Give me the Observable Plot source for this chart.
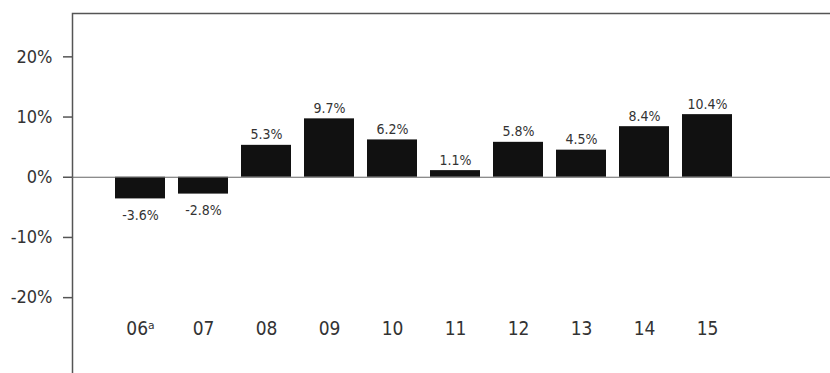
<!DOCTYPE html>
<html>
<head>
<meta charset="utf-8">
<script src="https://cdn.jsdelivr.net/npm/d3@7"></script>
<script src="https://cdn.jsdelivr.net/npm/@observablehq/plot@0.6"></script>
<style>
  html, body { margin: 0; padding: 0; background: #fff; }
  #chart svg { display: block; }
</style>
</head>
<body>
<div id="chart"></div>
<script>
const years = ["06", "07", "08", "09", "10", "11", "12", "13", "14", "15"];
const yearLabels = ["06ᵃ", "07", "08", "09", "10", "11", "12", "13", "14", "15"];
const values = [-3.6, -2.8, 5.3, 9.7, 6.2, 1.1, 5.8, 4.5, 8.4, 10.4];
const yTicks = [-20, -10, 0, 10, 20];
const yDomain = [-32.6, 27.2];

const data = years.map((y, i) => ({year: y, value: values[i]}));
const labelOf = new Map(years.map((y, i) => [y, yearLabels[i]]));
const font = "'DejaVu Sans Condensed', 'Liberation Sans Narrow', 'Roboto', sans-serif";

const chart = Plot.plot({
  width: 830,
  height: 373,
  marginTop: 13,
  marginBottom: 0,
  marginLeft: 72,
  marginRight: 0,
  style: {fontFamily: font, color: "#333", background: "#fff"},
  x: {domain: years, range: [104.6, 741.9], paddingInner: 0.2, paddingOuter: 0.1},
  y: {domain: yDomain, range: [373, 13]},
  marks: [
    Plot.frame({stroke: "#555", strokeWidth: 1.5, insetRight: -4, insetBottom: -4}),
    Plot.barY(data, {x: "year", y: "value", fill: "#111"}),
    Plot.ruleY([0], {stroke: "#666", strokeWidth: 1.2}),
    Plot.axisY({
      ticks: yTicks,
      tickFormat: d => `${d}%`,
      tickSize: 9,
      tickPadding: 11,
      stroke: "#555",
      strokeWidth: 1.5,
      fontSize: 18,
      fill: "#333",
      label: null
    }),
    Plot.axisX({
      anchor: "bottom",
      tickSize: 0,
      tickPadding: 0,
      dy: -52,
      tickFormat: d => labelOf.get(d),
      fontSize: 19,
      fill: "#333",
      label: null
    }),
    Plot.text(data.filter(d => d.value >= 0), {
      x: "year", y: "value",
      text: d => `${d.value.toFixed(1)}%`,
      lineAnchor: "bottom",
      dy: -6,
      fontSize: 14,
      fill: "#333"
    }),
    Plot.text(data.filter(d => d.value < 0), {
      x: "year", y: "value",
      text: d => `${d.value.toFixed(1)}%`,
      lineAnchor: "top",
      dy: 11,
      fontSize: 14,
      fill: "#333"
    })
  ]
});
document.getElementById("chart").appendChild(chart);
</script>
</body>
</html>
